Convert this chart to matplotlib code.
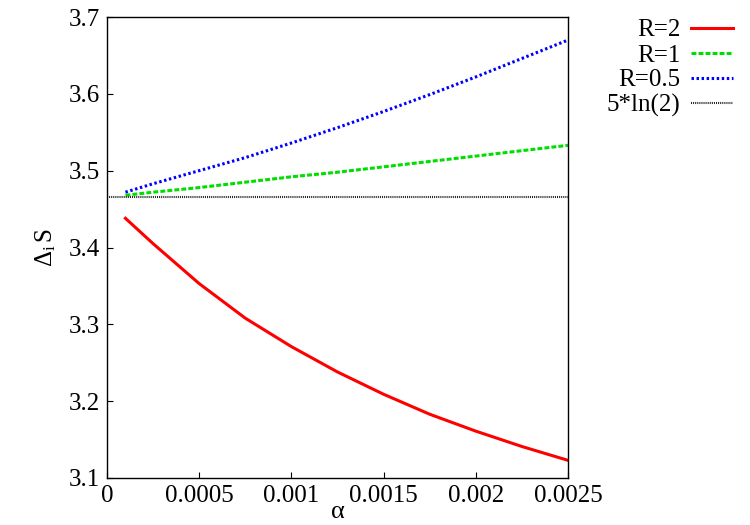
import numpy as np
import matplotlib
matplotlib.use("Agg")
import matplotlib.pyplot as plt

plt.rcParams["font.family"] = "serif"
plt.rcParams["font.serif"] = ["Liberation Serif", "DejaVu Serif"]
plt.rcParams["mathtext.fontset"] = "custom"
plt.rcParams["mathtext.rm"] = "Liberation Serif"
plt.rcParams["mathtext.it"] = "Liberation Serif:italic"

# values
alpha = [0.0001, 0.00025, 0.0005, 0.00075, 0.001, 0.00125,
         0.0015, 0.00175, 0.002, 0.00225, 0.0025]
s_r2 = [3.438, 3.405, 3.353, 3.308, 3.271, 3.238,
        3.209, 3.183, 3.161, 3.141, 3.123]
s_r1 = [3.468, 3.472, 3.478, 3.485, 3.492, 3.498,
        3.505, 3.512, 3.519, 3.526, 3.533]
s_r05 = [3.472, 3.483, 3.500, 3.517, 3.536, 3.556,
         3.577, 3.599, 3.622, 3.646, 3.670]
ref_level = 5 * np.log(2)

xticks = [0, 0.0005, 0.001, 0.0015, 0.002, 0.0025]
xticklabels = ["0", "0.0005", "0.001", "0.0015", "0.002", "0.0025"]
yticks = [3.1, 3.2, 3.3, 3.4, 3.5, 3.6, 3.7]

fig = plt.figure(figsize=(7.5, 5.25), dpi=100)
ax = fig.add_axes([107 / 750, 1 - 478 / 525, 461 / 750, 461 / 525])

ax.plot(alpha, s_r2, color="#ff0000", linewidth=2.2, linestyle="-", label="R=2")
ax.plot(alpha, s_r1, color="#00dd00", linewidth=2.2, linestyle=(0, (1.6, 0.7)), label="R=1")
ax.plot(alpha, s_r05, color="#0000ff", linewidth=2.2, linestyle=(0, (0.8, 0.85)), label="R=0.5")
ax.plot([0, 0.0025], [ref_level, ref_level], color="#222222", linewidth=1.5,
        linestyle=(0, (0.5, 0.5)), label="5*ln(2)")

ax.set_xlim(0, 0.0025)
ax.set_ylim(3.1, 3.7)
ax.set_xticks(xticks)
ax.set_xticklabels(xticklabels)
ax.set_yticks(yticks)
ax.tick_params(direction="in", length=4.5, width=0.8, labelsize=18, pad=5)
for s in ax.spines.values():
    s.set_linewidth(1.0)

ax.set_xlabel("α", fontsize=19, labelpad=-4)
ax.set_ylabel(r"$\Delta_{\rm i}\,$S", fontsize=18, labelpad=8)

ax.legend(loc="upper right", bbox_to_anchor=(733 / 750, 1 - 19 / 525),
          bbox_transform=fig.transFigure, frameon=False, markerfirst=False,
          fontsize=18, handlelength=1.7, handletextpad=0.4, labelspacing=0.1,
          borderpad=0, borderaxespad=0)

fig.savefig("out.png", dpi=100)
